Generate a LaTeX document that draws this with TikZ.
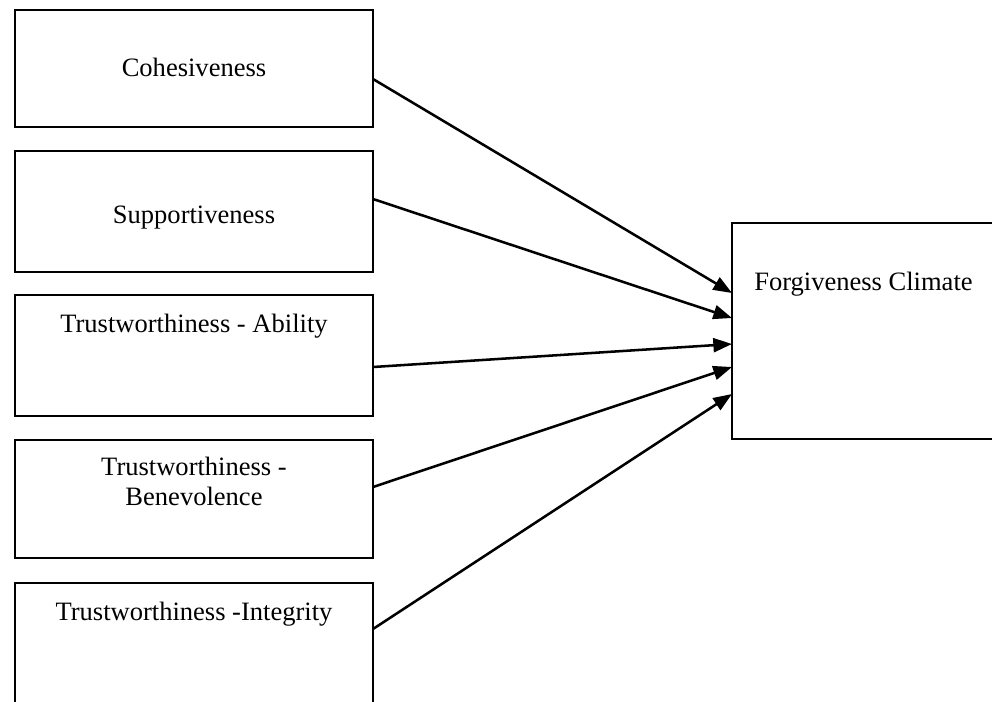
\documentclass[tikz,border=0pt]{standalone}
\usepackage{fontspec}
\setmainfont{Liberation Serif}
\usetikzlibrary{arrows.meta}
\begin{document}
\begin{tikzpicture}[x=0.75pt,y=-0.75pt,
  box/.style={draw,line width=1.9pt,rectangle,inner sep=0pt,outer sep=0pt,minimum width=268.5pt},
  lbl/.style={inner sep=0pt,font=\fontsize{19.9}{23}\selectfont,anchor=base},
  arr/.style={line width=1.9pt,-{Triangle[length=14pt,width=10.5pt]}}]
\clip (0,0) rectangle (992,701);
\fill[white] (0,0) rectangle (992,701);
% left boxes
\node[box,minimum height=87.75pt] (b1) at (194,68.5) {};
\node[box,minimum height=90.75pt] (b2) at (194,211.5) {};
\node[box,minimum height=90.75pt] (b3) at (194,355.5) {};
\node[box,minimum height=88.5pt]  (b4) at (194,499) {};
\node[box,minimum height=90.75pt] (b5) at (194,643.5) {};
% right box
\node[box,minimum width=208.5pt,minimum height=162pt] (fc) at (871,331) {};
% labels
\node[lbl] (t1) at (194,76) {Cohesiveness};
\node[lbl] (t2) at (194,223) {Supportiveness};
\node[lbl] (t3) at (194,332) {Trustworthiness - Ability};
\node[lbl] (t4a) at (194,475) {Trustworthiness -};
\node[lbl] (t4b) at (194,505) {Benevolence};
\node[lbl] (t5) at (194,620) {Trustworthiness -Integrity};
\node[lbl,anchor=base west] (tf) at (754,290) {Forgiveness Climate};
% arrows
\draw[arr] ([yshift=-7.875pt]b1.east) -- ([yshift=28.5pt]fc.west);
\draw[arr] ([yshift=9.375pt]b2.east) -- ([yshift=9.75pt]fc.west);
\draw[arr] ([yshift=-8.625pt]b3.east) -- ([yshift=-9.75pt]fc.west);
\draw[arr] ([yshift=9pt]b4.east) -- ([yshift=-27pt]fc.west);
\draw[arr] ([yshift=10.875pt]b5.east) -- ([yshift=-47.25pt]fc.west);
\end{tikzpicture}
\end{document}
